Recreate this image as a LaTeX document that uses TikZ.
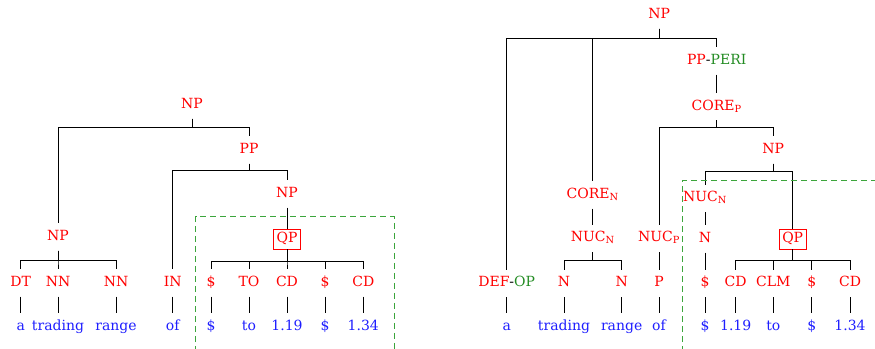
\documentclass[tikz,border=0pt]{standalone}
\usepackage{fontspec}
\setmainfont{DejaVu Serif}
\usepackage{xcolor}
\definecolor{catred}{RGB}{255,0,0}
\definecolor{wordblue}{RGB}{30,30,255}
\definecolor{rolegreen}{RGB}{34,139,34}
\definecolor{spangreen}{RGB}{60,165,60}

\begin{document}
\begin{tikzpicture}[x=1pt, y=-1pt,
every node/.style={font=\fontsize{14}{17}\selectfont, text height=10pt, text depth=3pt, inner xsep=1pt, inner ysep=7pt},
cat/.style={text=catred},
word/.style={text=wordblue},
boxcat/.style={cat, draw=catred, line width=0.8pt, inner xsep=3pt, inner ysep=3.5pt},
branch/.style={draw, line width=0.8pt},
span/.style={draw=spangreen, line width=0.8pt, dash pattern=on 6pt off 4pt}]

  \useasboundingbox (0,0) rectangle (875,348);

  % Left tree: categories
  \node[cat] (lnp) at (192,105) {NP};
  \node[cat] (lpp) at (249,150) {PP};
  \node[cat] (lnpq) at (287,194) {NP};
  \node[boxcat] (lqp) at (287,239) {QP};
  \node[cat] (lnpa) at (58,237) {NP};
  \node[cat] (ldt) at (20.7,283) {DT};
  \node[cat] (lnn1) at (58,283) {NN};
  \node[cat] (lnn2) at (116,283) {NN};
  \node[cat] (lin) at (172.7,283) {IN};
  \node[cat] (lq1) at (211,283) {\$};
  \node[cat] (lq2) at (249,283) {TO};
  \node[cat] (lq3) at (287,283) {CD};
  \node[cat] (lq4) at (325,283) {\$};
  \node[cat] (lq5) at (363.3,283) {CD};

  % Left tree: words
  \node[word] (lw1) at (20.7,326.7) {a};
  \node[word] (lw2) at (58,326.7) {trading};
  \node[word] (lw3) at (116,326.7) {range};
  \node[word] (lw4) at (172.7,326.7) {of};
  \node[word] (lw5) at (211,326.7) {\$};
  \node[word] (lw6) at (249,326.7) {to};
  \node[word] (lw7) at (287,326.7) {1.19};
  \node[word] (lw8) at (325,326.7) {\$};
  \node[word] (lw9) at (363.3,326.7) {1.34};

  \foreach \c in {lnpa,lpp} \draw[branch] (lnp.south) -- ++(0,9) -| (\c.north);
  \foreach \c in {lin,lnpq} \draw[branch] (lpp.south) -- ++(0,7) -| (\c.north);
  \draw[branch] (lnpq.south) -- (lqp.north);
  \foreach \c in {lq1,lq2,lq3,lq4,lq5} \draw[branch] (lqp.south) -- ++(0,11.7) -| (\c.north);
  \foreach \c in {ldt,lnn1,lnn2} \draw[branch] (lnpa.south) -- ++(0,10) -| (\c.north);
  \foreach \a/\b in {ldt/lw1,lnn1/lw2,lnn2/lw3,lin/lw4,lq1/lw5,lq2/lw6,lq3/lw7,lq4/lw8,lq5/lw9}
    \draw[branch] (\a.south) -- (\b.north);

  \draw[span] (195.7,352) -- (195.7,216.7) -- (394.3,216.7) -- (394.3,352);

  % Right tree: categories
  \node[cat] (rnp) at (659.3,15) {NP};
  \node (rpp) at (716.7,61) {\textcolor{catred}{PP}-\textcolor{rolegreen}{PERI}};
  \node[cat] (rcorep) at (716.7,106.7) {CORE\textsubscript{P}};
  \node[cat] (rnpq) at (773.3,150) {NP};
  \node[cat] (rnucq) at (705,198.3) {NUC\textsubscript{N}};
  \node[boxcat] (rqp) at (792.7,239) {QP};
  \node[cat] (rnq) at (705,239) {N};
  \node[cat] (rcoren) at (592.7,195) {CORE\textsubscript{N}};
  \node[cat] (rnucn) at (592.7,238.3) {NUC\textsubscript{N}};
  \node[cat] (rnucp) at (659,238.3) {NUC\textsubscript{P}};
  \node (rdef) at (506.7,283.3) {\textcolor{catred}{DEF}-\textcolor{rolegreen}{OP}};
  \node[cat] (rn1) at (564,283.3) {N};
  \node[cat] (rn2) at (621.7,283.3) {N};
  \node[cat] (rp) at (659,283.3) {P};
  \node[cat] (rd) at (705,283.3) {\$};
  \node[cat] (rq1) at (735.7,283.3) {CD};
  \node[cat] (rq2) at (773.3,283.3) {CLM};
  \node[cat] (rq3) at (811.7,283.3) {\$};
  \node[cat] (rq4) at (850,283.3) {CD};

  % Right tree: words
  \node[word] (rw1) at (506.7,326.7) {a};
  \node[word] (rw2) at (564,326.7) {trading};
  \node[word] (rw3) at (621.7,326.7) {range};
  \node[word] (rw4) at (659,326.7) {of};
  \node[word] (rw5) at (705,326.7) {\$};
  \node[word] (rw6) at (735.7,326.7) {1.19};
  \node[word] (rw7) at (773.3,326.7) {to};
  \node[word] (rw8) at (811.7,326.7) {\$};
  \node[word] (rw9) at (850,326.7) {1.34};

  \foreach \c in {rdef,rcoren,rpp} \draw[branch] (rnp.south) -- ++(0,10) -| (\c.north);
  \draw[branch] (rpp.south) -- (rcorep.north);
  \foreach \c in {rnucp,rnpq} \draw[branch] (rcorep.south) -- ++(0,6.5) -| (\c.north);
  \foreach \c in {rnucq,rqp} \draw[branch] (rnpq.south) -- ++(0,8) -| (\c.north);
  \draw[branch] (rnucq.south) -- (rnq.north);
  \draw[branch] (rnq.south) -- (rd.north);
  \foreach \c in {rq1,rq2,rq3,rq4} \draw[branch] (rqp.south) -- ++(0,11) -| (\c.north);
  \draw[branch] (rcoren.south) -- (rnucn.north);
  \foreach \c in {rn1,rn2} \draw[branch] (rnucn.south) -- ++(0,8) -| (\c.north);
  \draw[branch] (rnucp.south) -- (rp.north);
  \foreach \a/\b in {rn1/rw2,rn2/rw3,rp/rw4,rd/rw5,rq1/rw6,rq2/rw7,rq3/rw8,rq4/rw9}
    \draw[branch] (\a.south) -- (\b.north);
  \draw[branch] (rdef.south) -- (rw1.north);

  \draw[span] (682.3,352) -- (682.3,180.7) -- (880,180.7);

\end{tikzpicture}
\end{document}
